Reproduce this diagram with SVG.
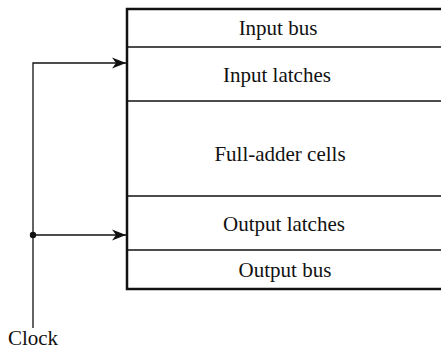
<svg xmlns="http://www.w3.org/2000/svg" width="441" height="351" viewBox="0 0 441 351">
<defs>
<style>
text{font-family:"Liberation Serif","Times New Roman",serif;font-size:21px;fill:#111;text-anchor:middle}
.box{fill:#fff;stroke:#111;stroke-width:2.5}
.div{stroke:#111;stroke-width:1.5;fill:none}
.wire{stroke:#111;stroke-width:1.3;fill:none}
</style>
<marker id="arr" markerWidth="16" markerHeight="14" refX="15" refY="7" orient="auto" markerUnits="userSpaceOnUse">
<path d="M1,1.5 L15,7 L1,12.5 L5,7 Z" fill="#111"/>
</marker>
</defs>
<g id="block">
<rect class="box" x="127" y="9" width="320" height="280"/>
<line class="div" x1="127" y1="47" x2="441" y2="47"/>
<line class="div" x1="127" y1="101" x2="441" y2="101"/>
<line class="div" x1="127" y1="196" x2="441" y2="196"/>
<line class="div" x1="127" y1="250" x2="441" y2="250"/>
</g>
<g id="input-bus"><text x="278" y="35">Input bus</text></g>
<g id="input-latches"><text x="277" y="82">Input latches</text></g>
<g id="full-adder-cells"><text x="280" y="161">Full-adder cells</text></g>
<g id="output-latches"><text x="284" y="231">Output latches</text></g>
<g id="output-bus"><text x="285" y="277">Output bus</text></g>
<g id="clock"><text x="33" y="345">Clock</text></g>
<g id="connectors">
<polyline class="wire" points="33,328 33,63 126,63" marker-end="url(#arr)"/>
<line class="wire" x1="33" y1="235" x2="126" y2="235" marker-end="url(#arr)"/>
<circle cx="33" cy="235" r="3.2" fill="#111"/>
</g>
</svg>
